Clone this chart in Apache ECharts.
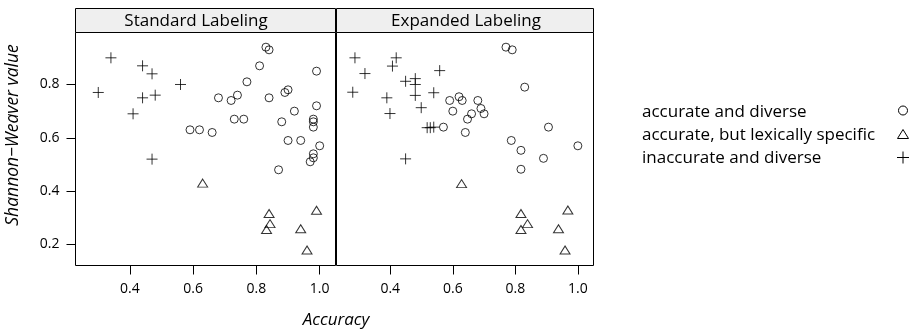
<!DOCTYPE html>
<html lang="en">
  <head>
    <meta charset="UTF-8" />
    <title>Shannon-Weaver vs Accuracy</title>
    <script src="https://cdn.jsdelivr.net/npm/echarts@6/dist/echarts.min.js"></script>
  </head>
  <style>
    html,
    body {
      margin: 0;
      padding: 0;
      background: #fff;
    }
    #chart {
      width: 912px;
      height: 329px;
    }
  </style>
  <body>
    <div id="chart"></div>
  </body>
  <script>
    const panels = ["Standard Labeling", "Expanded Labeling"];
    const groups = [
      "accurate and diverse",
      "accurate, but lexically specific",
      "inaccurate and diverse",
    ];
    const xTicks = [0.4, 0.6, 0.8, 1.0];
    const yTicks = [0.2, 0.4, 0.6, 0.8];

    // [accuracy, shannon-weaver]
    const stdDiverse = [
      [0.83, 0.94], [0.84, 0.93], [0.81, 0.87], [0.99, 0.85], [0.77, 0.81],
      [0.9, 0.78], [0.89, 0.77], [0.68, 0.75], [0.74, 0.76], [0.72, 0.74],
      [0.84, 0.75], [0.92, 0.7], [0.99, 0.72], [0.73, 0.67], [0.76, 0.67],
      [0.88, 0.66], [0.98, 0.67], [0.98, 0.66], [0.98, 0.64], [0.59, 0.63],
      [0.62, 0.63], [0.66, 0.62], [0.9, 0.59], [0.94, 0.59], [1.0, 0.57],
      [0.98, 0.54], [0.98, 0.525], [0.97, 0.51], [0.87, 0.48],
    ];
    const stdSpecific = [
      [0.63, 0.43], [0.84, 0.316], [0.99, 0.328], [0.843, 0.278],
      [0.832, 0.256], [0.94, 0.259], [0.96, 0.179],
    ];
    const stdInaccurate = [
      [0.34, 0.9], [0.3, 0.77], [0.44, 0.87], [0.47, 0.84], [0.56, 0.8],
      [0.44, 0.75], [0.48, 0.76], [0.41, 0.69], [0.47, 0.52],
    ];
    const expDiverse = [
      [0.77, 0.94], [0.79, 0.93], [0.83, 0.79], [0.59, 0.74], [0.62, 0.754],
      [0.63, 0.74], [0.68, 0.74], [0.6, 0.7], [0.69, 0.71], [0.7, 0.69],
      [0.66, 0.69], [0.647, 0.67], [0.57, 0.64], [0.64, 0.62], [0.906, 0.64],
      [0.787, 0.59], [0.818, 0.553], [1.0, 0.57], [0.89, 0.523], [0.818, 0.482],
    ];
    const expSpecific = [
      [0.628, 0.428], [0.818, 0.316], [0.968, 0.329], [0.839, 0.278],
      [0.818, 0.256], [0.938, 0.259], [0.959, 0.179],
    ];
    const expInaccurate = [
      [0.287, 0.9], [0.419, 0.9], [0.407, 0.869], [0.319, 0.841],
      [0.558, 0.852], [0.449, 0.812], [0.48, 0.822], [0.48, 0.8],
      [0.28, 0.771], [0.389, 0.75], [0.48, 0.759], [0.539, 0.769],
      [0.399, 0.691], [0.499, 0.713], [0.518, 0.638], [0.528, 0.638],
      [0.539, 0.64], [0.449, 0.521],
    ];

    const FONT = "Open Sans";
    const plusPath = "path://M0,5L10,5M5,0L5,10";
    const markStyle = { color: "rgba(0,0,0,0)", borderColor: "#000", borderWidth: 1 };

    function xAxisFor(i) {
      return {
        type: "value",
        gridIndex: i,
        min: 0.228,
        max: 1.05,
        axisLine: { show: false },
        splitLine: { show: false },
        axisTick: { show: true, length: 9, customValues: xTicks, lineStyle: { color: "#000" } },
        axisLabel: {
          customValues: xTicks,
          margin: 17,
          color: "#000",
          fontFamily: FONT,
          fontSize: 14,
          formatter: (v) => v.toFixed(1),
        },
      };
    }

    function yAxisFor(i) {
      return {
        type: "value",
        gridIndex: i,
        min: 0.121,
        max: 0.995,
        axisLine: { show: false },
        splitLine: { show: false },
        axisTick: { show: i === 0, length: 9, customValues: yTicks, lineStyle: { color: "#000" } },
        axisLabel: {
          show: i === 0,
          customValues: yTicks,
          margin: 16,
          color: "#000",
          fontFamily: FONT,
          fontSize: 14,
          formatter: (v) => v.toFixed(1),
        },
      };
    }

    function scatter(i, data, symbol, size) {
      return {
        type: "scatter",
        xAxisIndex: i,
        yAxisIndex: i,
        data: data,
        symbol: symbol,
        symbolSize: size,
        itemStyle: markStyle,
        silent: true,
      };
    }

    const stripY = 8.5;
    const stripH = 24;
    const strips = [
      { x: 75.5, w: 260, tx: 196 },
      { x: 336.5, w: 257, tx: 466 },
    ];

    const graphics = [];
    strips.forEach((s, i) => {
      graphics.push({
        type: "rect",
        shape: { x: s.x, y: stripY, width: s.w, height: stripH },
        style: { fill: "#efefef", stroke: "#000", lineWidth: 1 },
      });
      graphics.push({
        type: "text",
        x: s.tx,
        y: stripY + stripH / 2 + 0.5,
        style: {
          text: panels[i],
          font: "17px " + FONT,
          fill: "#000",
          textAlign: "center",
          textVerticalAlign: "middle",
        },
      });
    });

    // axis titles
    graphics.push({
      type: "text",
      x: 336,
      y: 320,
      style: {
        text: "Accuracy",
        font: "italic 17px " + FONT,
        fill: "#000",
        textAlign: "center",
        textVerticalAlign: "middle",
      },
    });
    graphics.push({
      type: "text",
      x: 13,
      y: 135,
      rotation: Math.PI / 2,
      style: {
        text: "Shannon\u2212Weaver value",
        font: "italic 17.5px " + FONT,
        fill: "#000",
        textAlign: "center",
        textVerticalAlign: "middle",
      },
    });

    // key
    const keyY = [112, 135.5, 158];
    groups.forEach((g, i) => {
      graphics.push({
        type: "text",
        x: 642,
        y: keyY[i],
        style: {
          text: g,
          font: "17px " + FONT,
          fill: "#000",
          textAlign: "left",
          textVerticalAlign: "middle",
        },
      });
    });
    graphics.push({
      type: "circle",
      shape: { cx: 903, cy: 110.5, r: 4.5 },
      style: { fill: "none", stroke: "#000", lineWidth: 1 },
    });
    graphics.push({
      type: "polygon",
      shape: { points: [[903, 129.5], [897.5, 138.5], [908.5, 138.5]] },
      style: { fill: "none", stroke: "#000", lineWidth: 1 },
    });
    graphics.push({
      type: "polyline",
      shape: { points: [[897, 157.5], [909, 157.5]] },
      style: { stroke: "#000", lineWidth: 1 },
    });
    graphics.push({
      type: "polyline",
      shape: { points: [[903, 151.5], [903, 163.5]] },
      style: { stroke: "#000", lineWidth: 1 },
    });

    const chart = echarts.init(document.getElementById("chart"));

    const option = {
      animation: false,
      backgroundColor: "#fff",
      grid: [
        { left: 75.5, top: 32.5, width: 260, height: 233, show: true, borderColor: "#000", borderWidth: 1 },
        { left: 336.5, top: 32.5, width: 257, height: 233, show: true, borderColor: "#000", borderWidth: 1 },
      ],
      xAxis: [xAxisFor(0), xAxisFor(1)],
      yAxis: [yAxisFor(0), yAxisFor(1)],
      series: [
        scatter(0, stdDiverse, "circle", 8),
        scatter(0, stdSpecific, "triangle", [10, 8]),
        scatter(0, stdInaccurate, plusPath, 11),
        scatter(1, expDiverse, "circle", 8),
        scatter(1, expSpecific, "triangle", [10, 8]),
        scatter(1, expInaccurate, plusPath, 11),
      ],
      graphic: graphics,
    };

    chart.setOption(option);
  </script>
</html>
